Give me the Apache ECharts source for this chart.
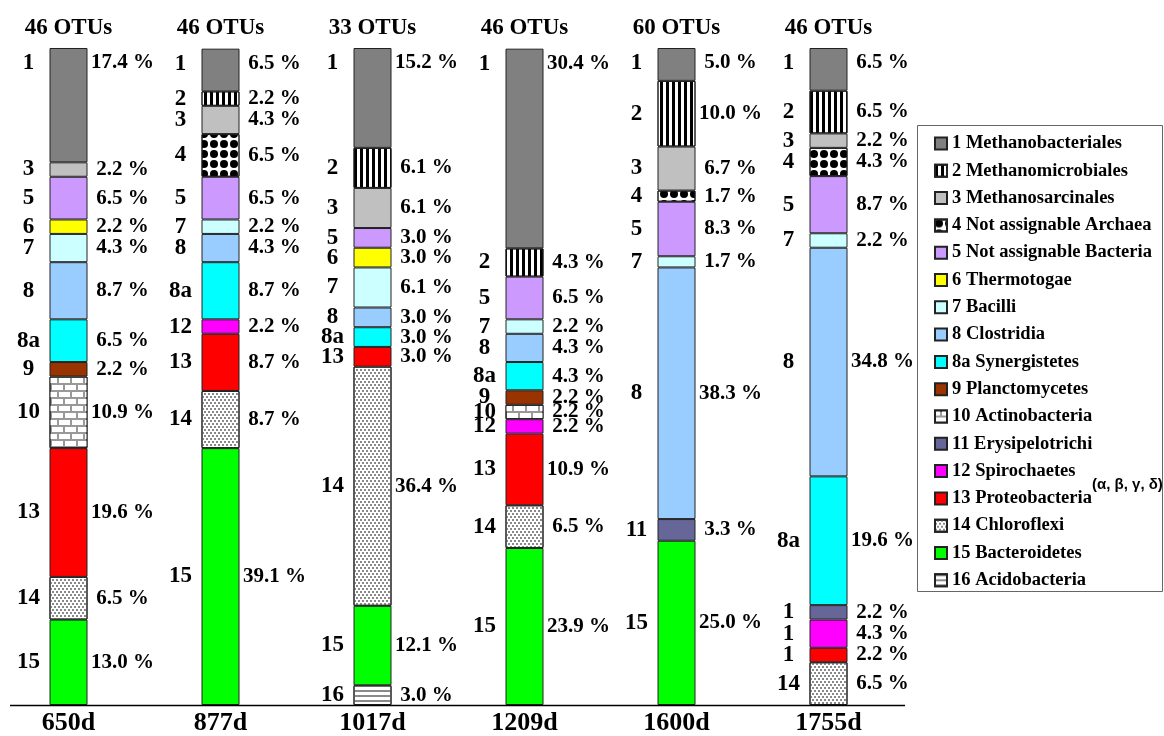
<!DOCTYPE html>
<html>
<head>
<meta charset="utf-8">
<script src="https://cdn.jsdelivr.net/npm/echarts@6.0.0/dist/echarts.min.js"></script>
<style>
  html, body { margin: 0; padding: 0; background: #fff; }
  #chart { width: 1164px; height: 736px; }
</style>
</head>
<body>
<div id="chart"></div>
<script>
// sampling days and OTU counts per sample
const days = ["650d", "877d", "1017d", "1209d", "1600d", "1755d"];
const otus = ["46 OTUs", "46 OTUs", "33 OTUs", "46 OTUs", "60 OTUs", "46 OTUs"];

// taxonomic groups, top of the bar first
const tags = ["1", "2", "3", "4", "5", "6", "7", "8", "8a", "9", "10", "11", "12", "13", "14", "15", "16"];
const names = [
  "Methanobacteriales", "Methanomicrobiales", "Methanosarcinales", "Not assignable Archaea",
  "Not assignable Bacteria", "Thermotogae", "Bacilli", "Clostridia", "Synergistetes",
  "Planctomycetes", "Actinobacteria", "Erysipelotrichi", "Spirochaetes", "Proteobacteria",
  "Chloroflexi", "Bacteroidetes", "Acidobacteria"
];

// % of OTUs per group, one value per day (null = group absent)
const g1 = [17.4, 6.5, 15.2, 30.4, 5.0, 6.5];
const g2 = [null, 2.2, 6.1, 4.3, 10.0, 6.5];
const g3 = [2.2, 4.3, 6.1, null, 6.7, 2.2];
const g4 = [null, 6.5, null, null, 1.7, 4.3];
const g5 = [6.5, 6.5, 3.0, 6.5, 8.3, 8.7];
const g6 = [2.2, null, 3.0, null, null, null];
const g7 = [4.3, 2.2, 6.1, 2.2, 1.7, 2.2];
const g8 = [8.7, 4.3, 3.0, 4.3, 38.3, 34.8];
const g8a = [6.5, 8.7, 3.0, 4.3, null, 19.6];
const g9 = [2.2, null, null, 2.2, null, null];
const g10 = [10.9, null, null, 2.2, null, null];
const g11 = [null, null, null, null, 3.3, 2.2];
const g12 = [null, 2.2, null, 2.2, null, 4.3];
const g13 = [19.6, 8.7, 3.0, 10.9, null, 2.2];
const g14 = [6.5, 8.7, 36.4, 6.5, null, 6.5];
const g15 = [13.0, 39.1, 12.1, 23.9, 25.0, null];
const g16 = [null, null, 3.0, null, null, null];
const groupValues = [g1, g2, g3, g4, g5, g6, g7, g8, g8a, g9, g10, g11, g12, g13, g14, g15, g16];

// in the original figure the tags of these segments are cut to one digit
const clippedTags = { "1755d": ["11", "12", "13"] };

const fills = [
  "#808080", "#ffffff", "#c0c0c0", "#ffffff", "#cc99ff", "#ffff00", "#ccffff", "#99ccff", "#00ffff",
  "#993300", "#999999", "#666699", "#ff00ff", "#ff0000", "#ffffff", "#00ff00", "#ffffff"
];

// hatch patterns for the black/white groups
const decals = {
  "2": { symbol: "rect", symbolSize: 1, color: "#000", dashArrayX: [3, 2.3], dashArrayY: [1, 0] },
  "4": { symbol: "circle", symbolSize: 1, color: "#000", dashArrayX: [8, 1.5], dashArrayY: [8, 1.5] },
  "10": { symbol: "rect", symbolSize: 1, color: "#fff", dashArrayX: [[10.5, 1.5], [4.5, 1.5, 6, 0]], dashArrayY: [4.5, 1.5] },
  "14": { symbol: "rect", symbolSize: 1, color: "#8a8a8a", dashArrayX: [[2, 2], [0, 2, 2, 0]], dashArrayY: [2, 1] },
  "16": { symbol: "rect", symbolSize: 1, color: "#8a8a8a", dashArrayX: [1, 0], dashArrayY: [2, 2.5] }
};

const serif = "'Liberation Serif', 'Times New Roman', serif";

const myChart = echarts.init(document.getElementById("chart"));

const series = tags
  .map((tag, i) => ({
    name: tag + " " + names[i],
    type: "bar",
    stack: "otu",
    barWidth: 38,
    clip: false,
    data: groupValues[i],
    itemStyle: {
      color: fills[i],
      borderColor: "#222",
      borderWidth: 1,
      decal: decals[tag] || null
    },
    label: {
      show: true,
      position: tag === "1" ? "insideTop" : "inside",
      distance: 4,
      offset: [14.5, 0],
      color: "#000",
      formatter: p => {
        let t = tag;
        if ((clippedTags[p.name] || []).includes(t)) t = t[0];
        return "{l|" + t + "}{g|}{r|" + p.value.toFixed(1) + " %}";
      },
      rich: {
        l: { width: 40, align: "center", fontSize: 23, lineHeight: 22, fontWeight: "bold", fontFamily: serif, color: "#000" },
        g: { width: 39 },
        r: { width: 70, align: "center", fontSize: 21, lineHeight: 22, fontWeight: "bold", fontFamily: serif, color: "#000" }
      }
    },
    emphasis: { disabled: true }
  }))
  .reverse();

const option = {
  animation: false,
  backgroundColor: "#fff",
  textStyle: { fontFamily: serif },
  // category ticks sit on the bar centres
  grid: { left: 68.5, right: 335.5, top: 48, bottom: 31 },
  legend: {
    orient: "vertical",
    left: 934,
    top: 134,
    padding: 0,
    icon: "rect",
    itemWidth: 12,
    itemHeight: 12,
    itemGap: 8.3,
    data: tags.map((t, i) => t + " " + names[i]),
    textStyle: { fontFamily: serif, fontWeight: "bold", fontSize: 18.5, lineHeight: 18, color: "#000" }
  },
  xAxis: [
    {
      type: "category",
      data: days,
      position: "bottom",
      boundaryGap: false,
      axisLine: { show: false },
      axisTick: { show: false },
      axisLabel: { fontSize: 26, fontWeight: "bold", color: "#000", fontFamily: serif, margin: 5 }
    },
    {
      type: "category",
      data: otus,
      position: "top",
      boundaryGap: false,
      axisLine: { show: false },
      axisTick: { show: false },
      axisLabel: { fontSize: 23, fontWeight: "bold", color: "#000", fontFamily: serif, margin: 8 }
    }
  ],
  yAxis: { type: "value", min: 0, max: 100, show: false },
  series: series,
  graphic: [
    // baseline and legend frame
    { type: "line", shape: { x1: 10, y1: 705.5, x2: 905, y2: 705.5 }, style: { stroke: "#000", lineWidth: 1.5 }, z: 10 },
    { type: "rect", shape: { x: 917.5, y: 125.5, width: 245, height: 466 }, style: { fill: "none", stroke: "#666", lineWidth: 1 } },
    {
      type: "text",
      left: 1092,
      top: 477,
      style: { text: "(α, β, γ, δ)", fontFamily: "'Liberation Sans', Arial, sans-serif", fontWeight: "bold", fontSize: 15, fill: "#000" }
    }
  ]
};

myChart.setOption(option);
</script>
</body>
</html>
